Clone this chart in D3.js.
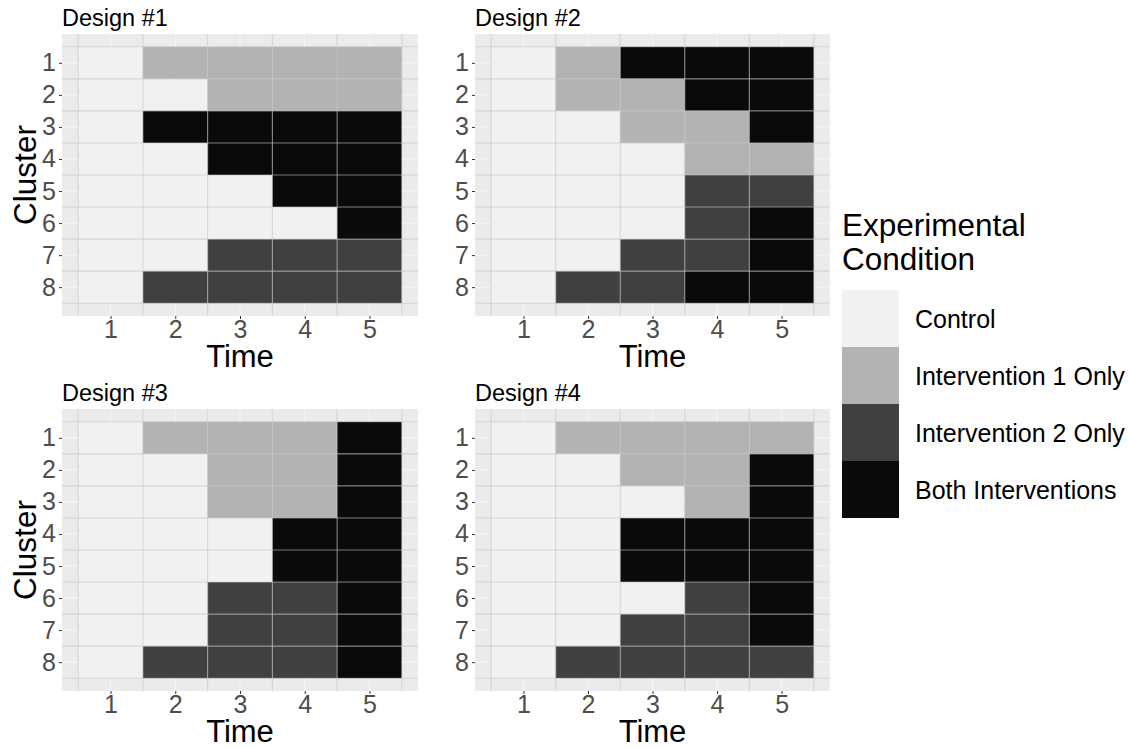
<!DOCTYPE html>
<html>
<head>
<meta charset="utf-8">
<script src="https://cdn.jsdelivr.net/npm/d3@7"></script>
<style>
  body { margin: 0; background: #fff; }
  svg { font-family: "Liberation Sans", Arial, sans-serif; }
</style>
</head>
<body>
<svg id="chart" width="1131" height="748"></svg>
<script>
// condition codes: C = Control, 1 = Intervention 1 Only, 2 = Intervention 2 Only, B = Both
const conditions = ['Control', 'Intervention 1 Only', 'Intervention 2 Only', 'Both Interventions'];
const codes = ['C', '1', '2', 'B'];
const fills = ['#f1f1f1', '#b3b3b3', '#404040', '#0a0a0a'];
const times = [1, 2, 3, 4, 5];
const clusters = [1, 2, 3, 4, 5, 6, 7, 8];
const titles = ['Design #1', 'Design #2', 'Design #3', 'Design #4'];

// one string per cluster, one character per time point
const design1 = ['C1111', 'CC111', 'CBBBB', 'CCBBB', 'CCCBB', 'CCCCB', 'CC222', 'C2222'];
const design2 = ['C1BBB', 'C11BB', 'CC11B', 'CCC11', 'CCC22', 'CCC2B', 'CC22B', 'C22BB'];
const design3 = ['C111B', 'CC11B', 'CC11B', 'CCCBB', 'CCCBB', 'CC22B', 'CC22B', 'C222B'];
const design4 = ['C1111', 'CC11B', 'CCC1B', 'CCBBB', 'CCBBB', 'CCC2B', 'CC22B', 'C2222'];
const designs = [design1, design2, design3, design4];

const svg = d3.select('#chart');
const color = d3.scaleOrdinal().domain(codes).range(fills);

// panel boxes (plot areas)
const panels = [
  {x0: 62, x1: 418, y0: 34, y1: 316, yTitle: true},
  {x0: 475, x1: 830, y0: 34, y1: 316, yTitle: false},
  {x0: 62, x1: 418, y0: 409, y1: 691, yTitle: true},
  {x0: 475, x1: 830, y0: 409, y1: 691, yTitle: false}
];

panels.forEach((p, k) => {
  const x = d3.scaleLinear().domain([0.25, 5.75]).range([p.x0, p.x1]);
  const y = d3.scaleLinear().domain([0.1, 8.9]).range([p.y0, p.y1]);
  const g = svg.append('g');

  // background
  g.append('rect')
    .attr('x', p.x0).attr('y', p.y0)
    .attr('width', p.x1 - p.x0).attr('height', p.y1 - p.y0)
    .attr('fill', '#ebebeb');

  // faint major grid
  g.selectAll('.vmaj').data(times).enter().append('line')
    .attr('x1', d => x(d)).attr('x2', d => x(d))
    .attr('y1', p.y0).attr('y2', p.y1)
    .attr('stroke', '#fff').attr('stroke-width', 0.6);
  g.selectAll('.hmaj').data(clusters).enter().append('line')
    .attr('y1', d => y(d)).attr('y2', d => y(d))
    .attr('x1', p.x0).attr('x2', p.x1)
    .attr('stroke', '#fff').attr('stroke-width', 0.6);

  // tiles
  const cells = [];
  designs[k].forEach((row, i) => {
    row.split('').forEach((c, j) => cells.push({cluster: clusters[i], time: times[j], code: c}));
  });
  g.selectAll('.tile').data(cells).enter().append('rect')
    .attr('x', d => x(d.time - 0.5))
    .attr('y', d => y(d.cluster - 0.5))
    .attr('width', d => x(d.time + 0.5) - x(d.time - 0.5))
    .attr('height', d => y(d.cluster + 0.5) - y(d.cluster - 0.5))
    .attr('fill', d => color(d.code));

  // grid at tile borders
  const vb = d3.range(0.5, 6, 1);
  const hb = d3.range(0.5, 9, 1);
  g.selectAll('.vmin').data(vb).enter().append('line')
    .attr('x1', d => x(d)).attr('x2', d => x(d))
    .attr('y1', p.y0).attr('y2', p.y1)
    .attr('stroke', '#c4c4c4').attr('stroke-opacity', 0.6).attr('stroke-width', 1.1);
  g.selectAll('.hmin').data(hb).enter().append('line')
    .attr('y1', d => y(d)).attr('y2', d => y(d))
    .attr('x1', p.x0).attr('x2', p.x1)
    .attr('stroke', '#c4c4c4').attr('stroke-opacity', 0.6).attr('stroke-width', 1.1);

  // axes
  const ax = g.append('g')
    .attr('transform', `translate(0,${p.y1})`)
    .call(d3.axisBottom(x).tickValues(times).tickFormat(d3.format('d')).tickSize(3).tickPadding(1));
  const ay = g.append('g')
    .attr('transform', `translate(${p.x0},0)`)
    .call(d3.axisLeft(y).tickValues(clusters).tickFormat(d3.format('d')).tickSize(3).tickPadding(3));
  [ax, ay].forEach(a => {
    a.select('.domain').remove();
    a.selectAll('line').attr('stroke', '#333').attr('stroke-width', 1);
    a.selectAll('text')
      .attr('fill', '#4d4d4d')
      .style('font-size', '25px')
      .style('font-family', '"Liberation Sans", Arial, sans-serif');
  });

  // titles
  g.append('text')
    .attr('x', p.x0).attr('y', p.y0 - 8)
    .style('font-size', '23.5px').attr('fill', '#000')
    .text(titles[k]);
  g.append('text')
    .attr('x', (p.x0 + p.x1) / 2).attr('y', p.y1 + 51)
    .attr('text-anchor', 'middle')
    .style('font-size', '31px').attr('fill', '#000')
    .text('Time');
  if (p.yTitle) {
    g.append('text')
      .attr('transform', `translate(36,${(p.y0 + p.y1) / 2}) rotate(-90)`)
      .attr('text-anchor', 'middle')
      .style('font-size', '31.5px').attr('fill', '#000')
      .text('Cluster');
  }
});

// legend
const leg = svg.append('g').attr('transform', 'translate(842,0)');
leg.append('text').attr('x', 0).attr('y', 236)
  .style('font-size', '31.5px').text('Experimental');
leg.append('text').attr('x', 0).attr('y', 270)
  .style('font-size', '31.5px').text('Condition');
const ky = d3.scaleBand().domain(conditions).range([290, 518]);
leg.selectAll('.key').data(conditions).enter().append('rect')
  .attr('x', 0).attr('y', d => ky(d))
  .attr('width', 57).attr('height', ky.bandwidth())
  .attr('fill', (d, i) => fills[i]);
leg.selectAll('.lab').data(conditions).enter().append('text')
  .attr('x', 73).attr('y', d => ky(d) + ky.bandwidth() / 2)
  .attr('dy', '0.36em')
  .style('font-size', '25px').attr('fill', '#000')
  .text(d => d);
</script>
</body>
</html>
